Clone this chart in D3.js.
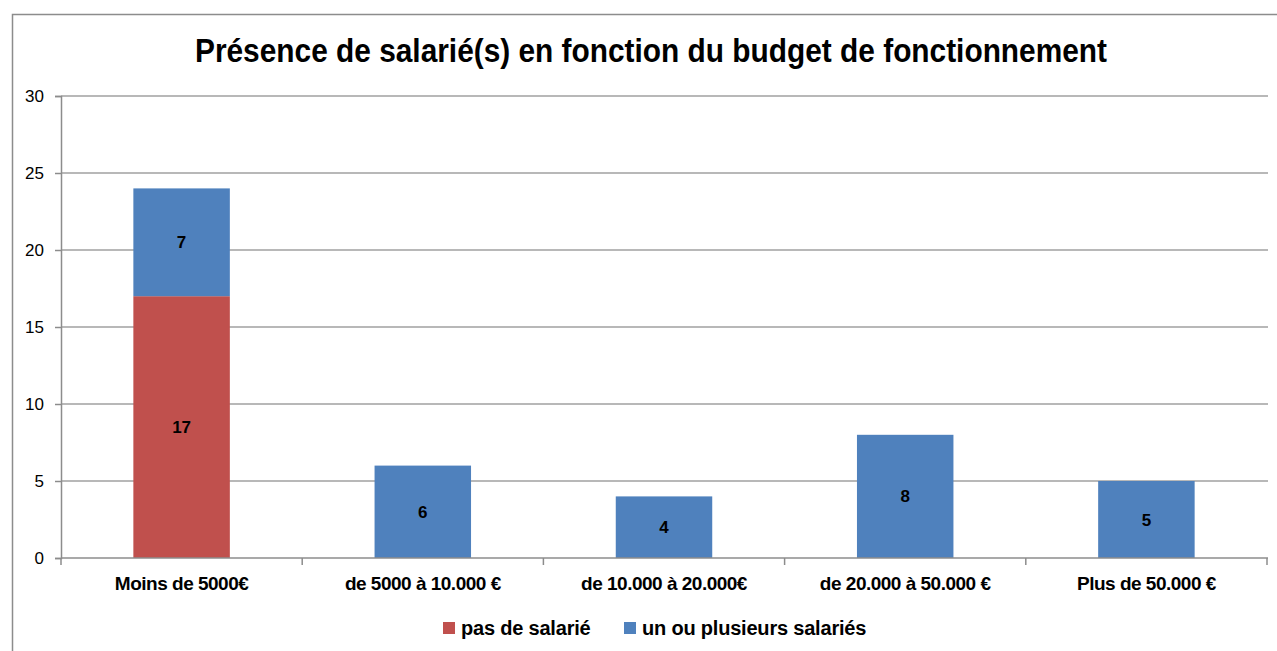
<!DOCTYPE html>
<html>
<head>
<meta charset="utf-8">
<script src="https://cdn.jsdelivr.net/npm/d3@7"></script>
<style>
  body { margin: 0; background: #ffffff; }
  svg { display: block; font-family: "Liberation Sans", Arial, sans-serif; }
  .grid line { stroke: #a0a0a0; stroke-width: 1.5; }
  .axis path, .axis line { stroke: #8c8c8c; stroke-width: 1.5; }
  .axis text { fill: #000; }
</style>
</head>
<body>
<svg width="1277" height="651"></svg>
<script>
// data
const categories = ['Moins de 5000€', 'de 5000 à 10.000 €', 'de 10.000 à 20.000€', 'de 20.000 à 50.000 €', 'Plus de 50.000 €']
const seriesNames = ['pas de salarié', 'un ou plusieurs salariés']
const pasDeSalarie = [17, 0, 0, 0, 0]
const unOuPlusieurs = [7, 6, 4, 8, 5]
const yTicks = [0, 5, 10, 15, 20, 25, 30]
const colors = ['#C0504D', '#4F81BD']

// build rows for the stack
const rows = categories.map((c, i) => ({ cat: c, s0: pasDeSalarie[i], s1: unOuPlusieurs[i] }))
const stacked = d3.stack().keys(['s0', 's1'])(rows)

const svg = d3.select('svg')

// outer chart border (runs off the right and bottom edge)
svg.append('path')
  .attr('d', 'M12.5,660 L12.5,14.5 L1290,14.5')
  .attr('fill', 'none')
  .attr('stroke', '#8c8c8c')
  .attr('stroke-width', 1.5)

// scales
const x = d3.scaleBand().domain(categories).range([61, 1267]).padding(0)
const y = d3.scaleLinear().domain([0, 30]).range([558, 96])
const barW = x.bandwidth() * 0.4

// gridlines
svg.append('g')
  .attr('class', 'grid')
  .selectAll('line')
  .data(yTicks.filter(t => t > 0))
  .enter()
  .append('line')
  .attr('x1', 61)
  .attr('x2', 1268)
  .attr('y1', d => y(d))
  .attr('y2', d => y(d))

// bars
const layers = svg.selectAll('g.layer')
  .data(stacked)
  .enter()
  .append('g')
  .attr('class', 'layer')
  .style('fill', (d, i) => colors[i])

layers.selectAll('rect')
  .data(d => d.filter(p => p[1] - p[0] > 0))
  .enter()
  .append('rect')
  .attr('x', d => x(d.data.cat) + (x.bandwidth() - barW) / 2)
  .attr('y', d => y(d[1]))
  .attr('width', barW)
  .attr('height', d => y(d[0]) - y(d[1]))

// value labels
layers.selectAll('text')
  .data(d => d.filter(p => p[1] - p[0] > 0))
  .enter()
  .append('text')
  .attr('x', d => x(d.data.cat) + x.bandwidth() / 2)
  .attr('y', d => (y(d[0]) + y(d[1])) / 2 + 6)
  .attr('text-anchor', 'middle')
  .style('fill', '#000')
  .style('font-weight', 'bold')
  .style('font-size', '17px')
  .text(d => d[1] - d[0])

// y axis
const yAxis = svg.append('g')
  .attr('class', 'axis')
  .attr('transform', 'translate(61,0)')
  .call(d3.axisLeft(y).tickValues(yTicks).tickSize(6).tickPadding(11))
yAxis.selectAll('text').style('font-size', '17px')

// x axis with ticks at category boundaries
const xAxis = svg.append('g')
  .attr('class', 'axis')
  .attr('transform', 'translate(0,558)')
xAxis.append('line')
  .attr('x1', 61).attr('x2', 1268)
xAxis.selectAll('line.tk')
  .data(categories.map(c => x(c)).concat([1267]))
  .enter()
  .append('line')
  .attr('class', 'tk')
  .attr('x1', d => d).attr('x2', d => d)
  .attr('y1', 0).attr('y2', 7)
xAxis.selectAll('text')
  .data(categories)
  .enter()
  .append('text')
  .attr('x', d => x(d) + x.bandwidth() / 2)
  .attr('y', 32)
  .attr('text-anchor', 'middle')
  .style('font-weight', 'bold')
  .style('font-size', '19px')
  .style('letter-spacing', '-0.5px')
  .text(d => d)

// title
svg.append('text')
  .attr('x', 651)
  .attr('y', 62)
  .attr('text-anchor', 'middle')
  .attr('textLength', 912)
  .attr('lengthAdjust', 'spacingAndGlyphs')
  .style('font-weight', 'bold')
  .style('font-size', '34px')
  .text('Présence de salarié(s) en fonction du budget de fonctionnement')

// legend
const legendX = [443, 624]
const legend = svg.selectAll('g.legend')
  .data(seriesNames)
  .enter()
  .append('g')
  .attr('class', 'legend')
  .attr('transform', (d, i) => `translate(${legendX[i]}, 622)`)
legend.append('rect')
  .attr('width', 12)
  .attr('height', 12)
  .style('fill', (d, i) => colors[i])
legend.append('text')
  .attr('x', 18)
  .attr('y', 13)
  .style('font-weight', 'bold')
  .style('font-size', '20px')
  .style('letter-spacing', '-0.2px')
  .text(d => d)
</script>
</body>
</html>
